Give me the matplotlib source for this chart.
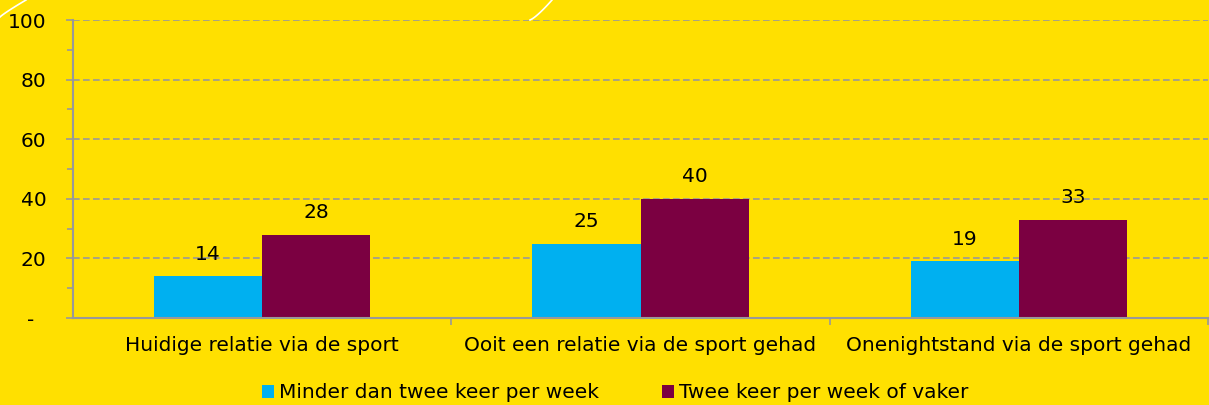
import matplotlib
matplotlib.use("Agg")
import matplotlib.pyplot as plt
from matplotlib.lines import Line2D
from matplotlib.patches import Patch
import numpy as np

categories = ["Huidige relatie via de sport", "Ooit een relatie via de sport gehad", "Onenightstand via de sport gehad"]
series_names = ["Minder dan twee keer per week", "Twee keer per week of vaker"]
minder = [14, 25, 19]
twee = [28, 40, 33]
yticks = [0, 20, 40, 60, 80, 100]
ytick_labels = ["-  ", "20", "40", "60", "80", "100"]

bg = "#FFE000"
blue = "#00B0F0"
maroon = "#7B0041"
grey = "#999999"
fs = 14.5

plt.rcParams['font.family'] = ['DejaVu Sans']
fig = plt.figure(figsize=(12.09, 4.05), dpi=100, facecolor=bg)
ax = fig.add_axes([73/1209, 1-318/405, 1135/1209, 298/405])
ax.set_facecolor(bg)

x = np.arange(len(categories))
w = 0.286
b1 = ax.bar(x - w/2, minder, w, color=blue, label=series_names[0], zorder=3)
b2 = ax.bar(x + w/2, twee, w, color=maroon, label=series_names[1], zorder=3)

for bars, vals in ((b1, minder), (b2, twee)):
    for r, v in zip(bars, vals):
        ax.annotate(f"{v}", (r.get_x() + r.get_width()/2, v), xytext=(0, 16),
                    textcoords="offset points", ha="center", va="center",
                    fontsize=fs, color="black", zorder=4)

ax.set_xlim(-0.5, 2.5)
ax.set_ylim(0, 100)
ax.set_yticks(yticks)
ax.set_yticklabels(ytick_labels, fontsize=fs)
ax.set_yticks(np.arange(10, 100, 20), minor=True)
ax.tick_params(axis='y', which='major', length=5, color=grey, width=1.2, pad=14)
ax.tick_params(axis='y', which='minor', length=4, color=grey, width=1.2)

ax.set_xticks([0.5, 1.5, 2.5])
ax.set_xticklabels([])
ax.set_xticks(x, minor=True)
ax.set_xticklabels(categories, minor=True, fontsize=fs)
ax.tick_params(axis='x', which='major', length=5, color=grey, width=1.2, direction='out')
ax.tick_params(axis='x', which='minor', length=0, pad=13)

ax.grid(axis='y', which='major', linestyle=(0, (4, 2)), color=grey, linewidth=1.2, zorder=1)
for s in ("top", "right"):
    ax.spines[s].set_visible(False)
for s in ("left", "bottom"):
    ax.spines[s].set_color(grey)
    ax.spines[s].set_linewidth(1.5)
    ax.spines[s].set_zorder(5)

handles = [Patch(facecolor=blue), Patch(facecolor=maroon)]
leg = fig.legend(handles, series_names, loc="center", bbox_to_anchor=(0.509, 0.03),
                 ncol=2, frameon=False, fontsize=fs, handlelength=0.6, handleheight=0.6,
                 handletextpad=0.25, columnspacing=3.1)

# decorative white arcs
t = np.linspace(0, 1, 20)
fig.add_artist(Line2D((530 + 22*t**0.8)/1209, 1 - (20 - 20*t)/405, color="white", lw=1.2,
                      transform=fig.transFigure))
fig.add_artist(Line2D((0 + 26*t)/1209, 1 - (17 - 17*t**0.9)/405, color="white", lw=1.2,
                      transform=fig.transFigure))

fig.savefig("out.png", dpi=100, facecolor=bg)
